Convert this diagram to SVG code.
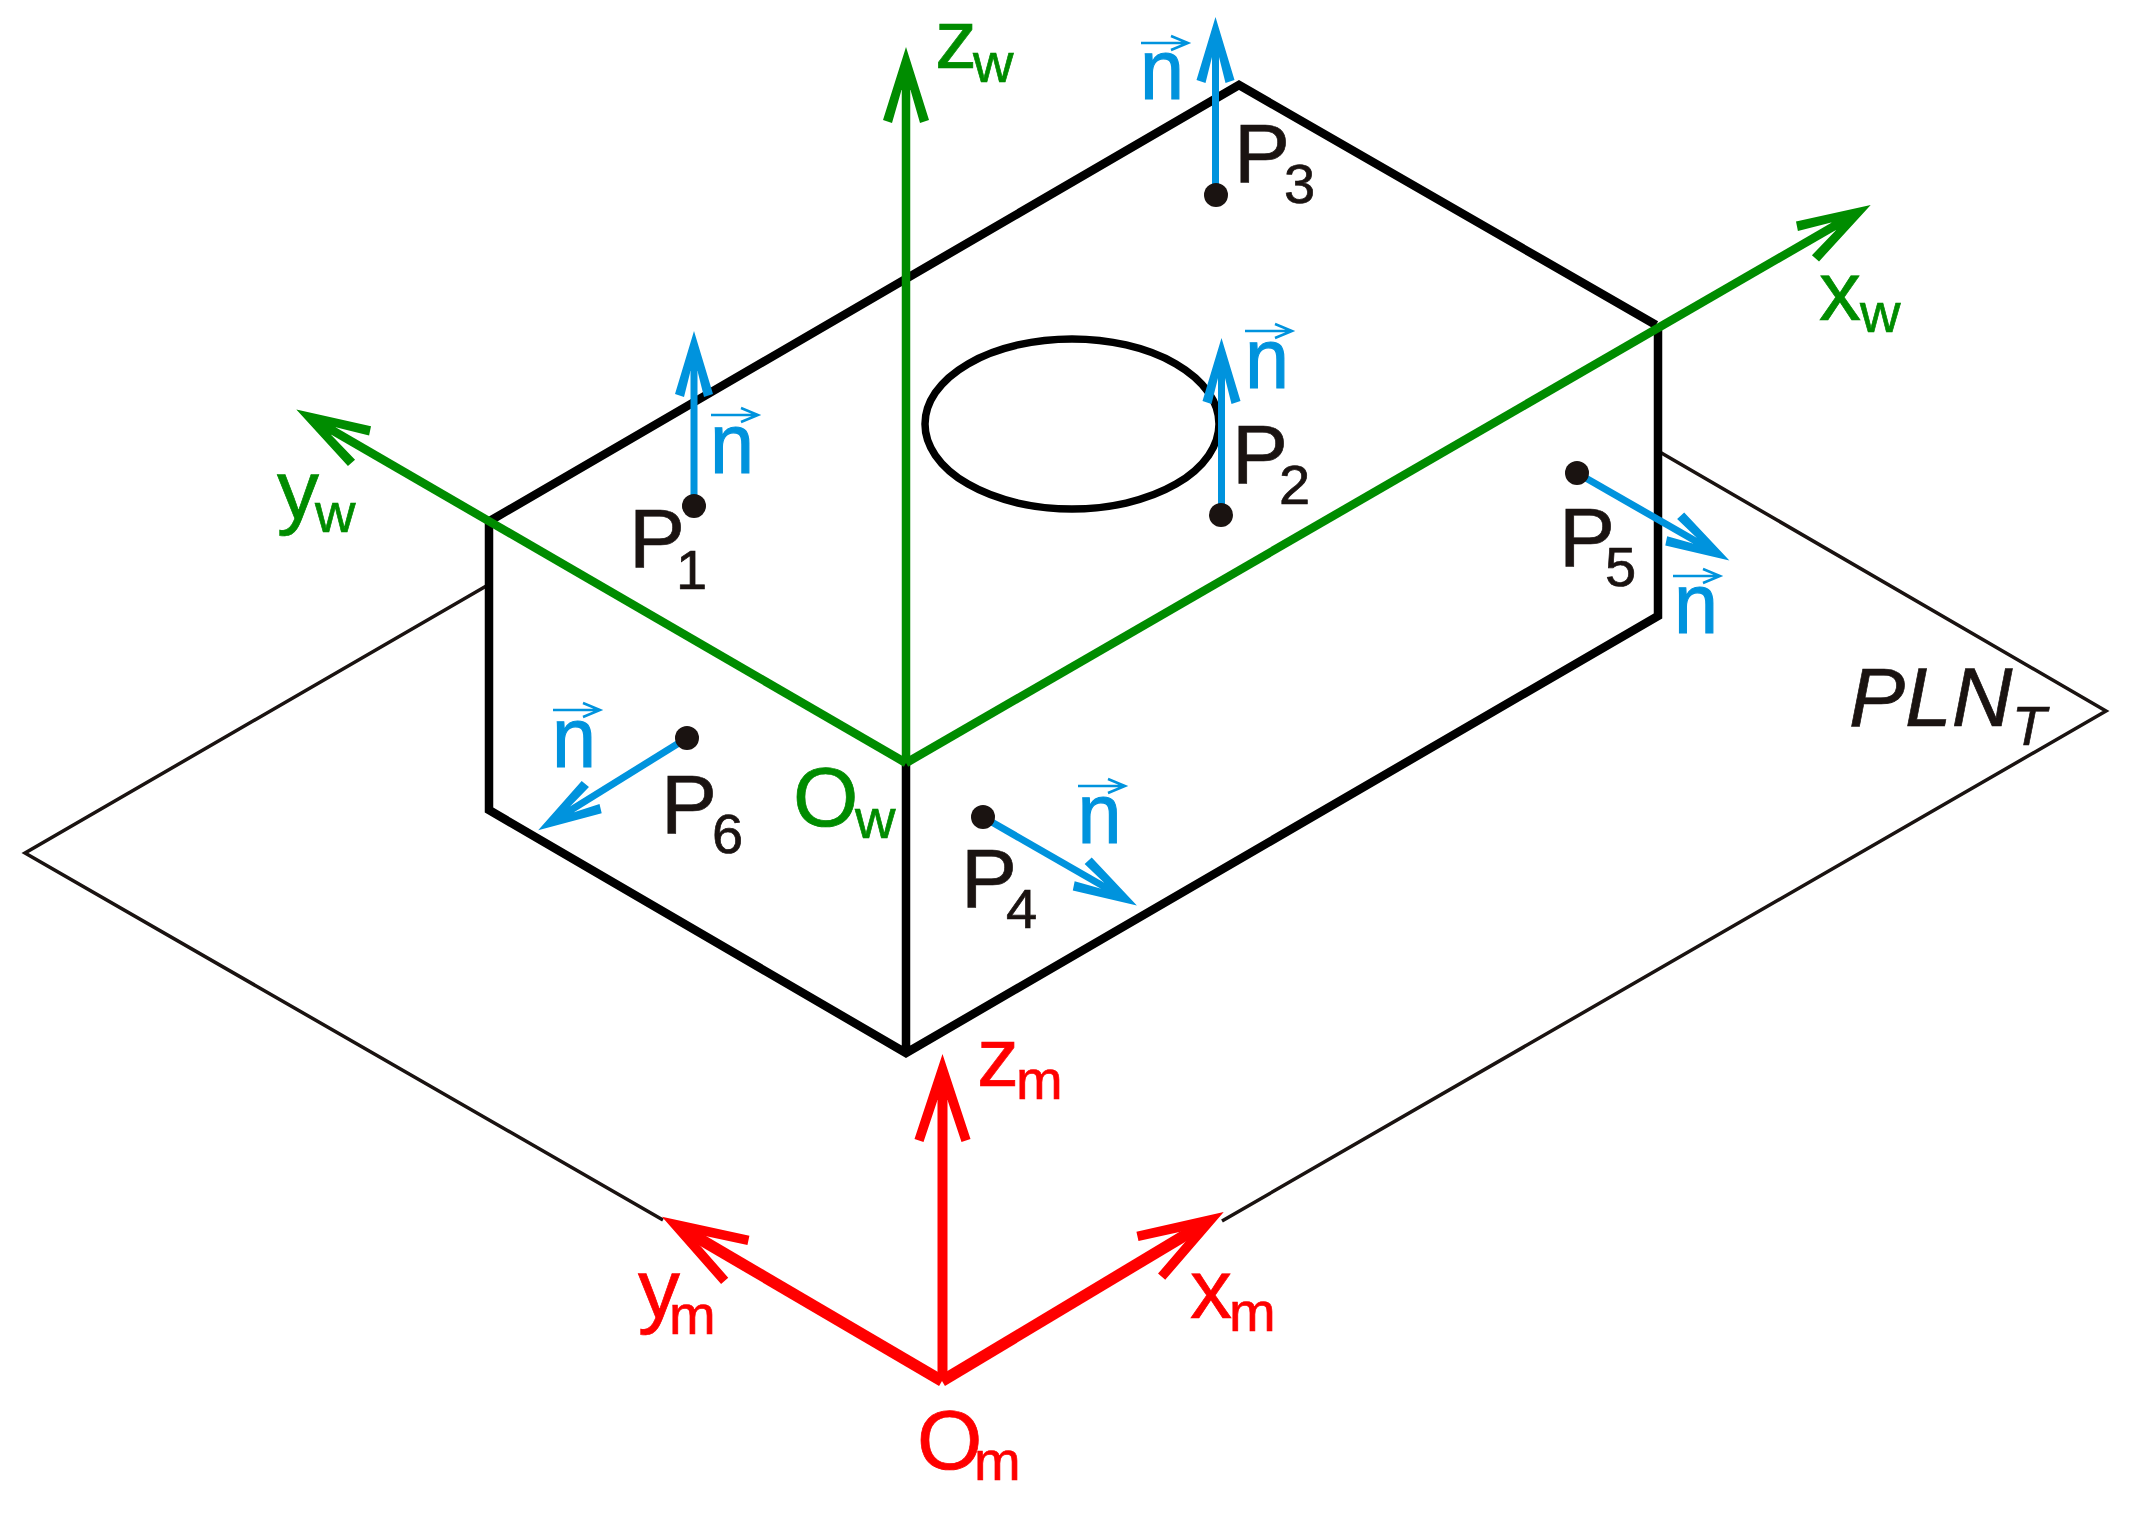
<svg xmlns="http://www.w3.org/2000/svg" width="2131" height="1514" viewBox="0 0 2131 1514">
<style>
text{font-family:"Liberation Sans",Arial,sans-serif;font-size:84px;stroke-width:0.7}
.s{font-size:56px}
.k{fill:#1a1311;stroke:#1a1311}.g{fill:#008c00;stroke:#008c00}.r{fill:#ff0000;stroke:#ff0000}
.n{font-size:86px;fill:#0093dd;stroke:#0093dd;stroke-width:1.2}
.ar{fill:none;stroke:#0093dd;stroke-width:2.5}
.plane{fill:none;stroke:#1a1311;stroke-width:3.5}
.edge{fill:none;stroke:#000;stroke-width:8.5;stroke-linejoin:miter}
.hole{fill:none;stroke:#000;stroke-width:7.5}
.gl{fill:none;stroke:#008c00;stroke-width:8.5}
.rl{fill:none;stroke:#ff0000;stroke-width:10}
.rd{stroke-width:11.5}
.bl{fill:none;stroke:#0093dd;stroke-width:7}
.dot{fill:#1a1311}
</style>
<defs>
<marker id="hr" markerUnits="userSpaceOnUse" orient="auto" markerWidth="130" markerHeight="70" refX="90" refY="35" overflow="visible"><path transform="translate(90 35)" fill="#ff0000" d="M30 0L-55 -28L-58 -19L-16 -5L-16 5L-58 19L-55 28Z"/></marker>
<marker id="hg" markerUnits="userSpaceOnUse" orient="auto" markerWidth="130" markerHeight="70" refX="90" refY="35" overflow="visible"><path transform="translate(90 35)" fill="#008c00" d="M32 0L-41 -23L-44 -14L-11 -4.5L-11 4.5L-44 14L-41 23Z"/></marker>
<marker id="hb" markerUnits="userSpaceOnUse" orient="auto" markerWidth="130" markerHeight="70" refX="90" refY="35" overflow="visible"><path transform="translate(90 35)" fill="#0093dd" d="M31 0L-32 -19L-35 -10L-9 -3.5L-9 3.5L-35 10L-32 19Z"/></marker>
<path id="na" class="ar" d="M0 0H47M30 -7L47 0L30 7"/>
</defs>

<g id="plane">
<path class="plane" d="M488 585L25 853L663 1220M1222 1221L2106 711L1658 451"/>
<text class="k" x="1849" y="725.6" style="font-style:italic">PLN<tspan class="s" x="2012" y="745">T</tspan></text>
</g>

<g id="box">
<path class="edge" d="M488 522L1239 85L1656 325M489 518V810L906 1053L1658 616V325M906 763V1053"/>
<ellipse class="hole" cx="1072" cy="424" rx="147" ry="85"/>
</g>

<g id="connectors">
<path class="gl" d="M906 763L324 425.5" marker-end="url(#hg)"/>
<path class="gl" d="M906 763L1843 221" marker-end="url(#hg)"/>
<path class="gl" d="M906 763V79" marker-end="url(#hg)"/>
<path class="rl" d="M942.5 1381V1084" marker-end="url(#hr)"/>
<path class="rl rd" d="M942 1381L687.8 1232" marker-end="url(#hr)"/>
<path class="rl rd" d="M942 1381L1198 1227.5" marker-end="url(#hr)"/>
<path class="bl" d="M694 506V362" marker-end="url(#hb)"/>
<path class="bl" d="M1221.5 515V369" marker-end="url(#hb)"/>
<path class="bl" d="M1215.5 195V48" marker-end="url(#hb)"/>
<path class="bl" d="M983 817L1110 890" marker-end="url(#hb)"/>
<path class="bl" d="M1577 473L1702.5 545" marker-end="url(#hb)"/>
<path class="bl" d="M687 738L564.5 814" marker-end="url(#hb)"/>
</g>

<g id="P1"><circle class="dot" cx="694" cy="506" r="12"/><text class="k" x="629" y="567">P<tspan class="s" x="676" y="589">1</tspan></text>
<text class="n" x="710" y="472.6" textLength="44" lengthAdjust="spacingAndGlyphs">n</text><use href="#na" x="711" y="415"/></g>
<g id="P2"><circle class="dot" cx="1221" cy="515" r="12"/><text class="k" x="1232" y="483">P<tspan class="s" x="1279" y="504">2</tspan></text>
<text class="n" x="1245" y="388" textLength="44" lengthAdjust="spacingAndGlyphs">n</text><use href="#na" x="1245" y="331"/></g>
<g id="P3"><circle class="dot" cx="1216" cy="195" r="12"/><text class="k" x="1234" y="182">P<tspan class="s" x="1284" y="203">3</tspan></text>
<text class="n" x="1140" y="99" textLength="44" lengthAdjust="spacingAndGlyphs">n</text><use href="#na" x="1141" y="43"/></g>
<g id="P4"><circle class="dot" cx="983" cy="817" r="12"/><text class="k" x="961" y="907">P<tspan class="s" x="1006" y="928">4</tspan></text>
<text class="n" x="1077.5" y="843" textLength="44" lengthAdjust="spacingAndGlyphs">n</text><use href="#na" x="1078" y="786"/></g>
<g id="P5"><circle class="dot" cx="1577" cy="473" r="12"/><text class="k" x="1559" y="566">P<tspan class="s" x="1605" y="586">5</tspan></text>
<text class="n" x="1674" y="632.5" textLength="44" lengthAdjust="spacingAndGlyphs">n</text><use href="#na" x="1673" y="576"/></g>
<g id="P6"><circle class="dot" cx="687" cy="738" r="12"/><text class="k" x="661" y="833">P<tspan class="s" x="712" y="853">6</tspan></text>
<text class="n" x="552" y="767" textLength="44" lengthAdjust="spacingAndGlyphs">n</text><use href="#na" x="553" y="710"/></g>

<g id="world-frame">
<text class="g" x="793" y="826">O<tspan class="s" x="855" y="838">w</tspan></text>
<text class="g" x="935" y="68">z<tspan class="s" x="973" y="82">w</tspan></text>
<text class="g" x="277" y="519">y<tspan class="s" x="315" y="532">w</tspan></text>
<text class="g" x="1819" y="320">x<tspan class="s" x="1860" y="332">w</tspan></text>
</g>
<g id="model-frame">
<text class="r" x="917" y="1469">O<tspan class="s" x="974" y="1480">m</tspan></text>
<text class="r" x="977" y="1086">z<tspan class="s" x="1016" y="1099">m</tspan></text>
<text class="r" x="638" y="1318">y<tspan class="s" x="669" y="1334">m</tspan></text>
<text class="r" x="1190" y="1318">x<tspan class="s" x="1229" y="1331">m</tspan></text>
</g>
</svg>
